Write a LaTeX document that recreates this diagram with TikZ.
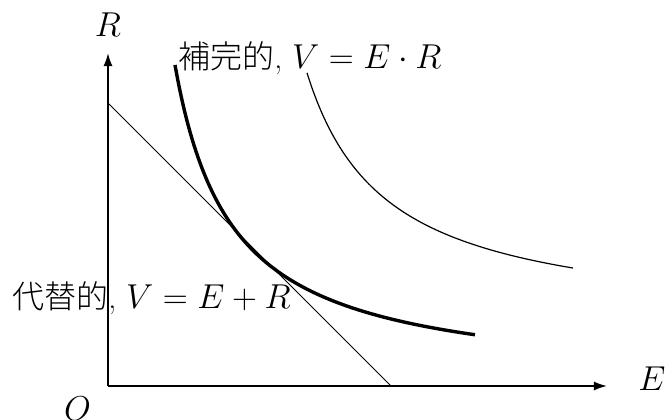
\documentclass[tikz,border=0pt]{standalone}
\usepackage{fontspec}
\newfontfamily\cjk{Noto Sans CJK JP}[UprightFont=* Light]
\usetikzlibrary{arrows.meta}
\begin{document}
\begin{tikzpicture}[x=5pt,y=5pt,
  axis/.style={line width=0.9pt,-{Latex[length=6.5pt,width=4.5pt]}},
  lbl/.style={font=\fontsize{16}{19}\selectfont, inner sep=0pt}]
\useasboundingbox (-10.8,-3.3) rectangle (55.8,38.6);
\coordinate (O) at (0,0);
\coordinate (Ytip) at (0,33.3);
\coordinate (Xtip) at (49.9,0);
\coordinate (Ltop) at (0,28.3);
\coordinate (Lbot) at (28.3,0);
\draw[axis] (O) -- (Ytip);
\draw[axis] (O) -- (Xtip);
\draw[line width=0.5pt] (Ltop) -- (Lbot);
\draw[line width=1.7pt, domain=6.7:36.7, samples=100, smooth] plot (\x,{183/(\x-1)});
\draw[line width=0.6pt, domain=19.9:46.5, samples=100, smooth] plot (\x,{6+200/(\x-12)});
\node[lbl] (Rl) at (0,36.1) {$R$};
\node[lbl] (El) at (54.4,0.7) {$E$};
\node[lbl] (Ol) at (-3.05,-2.3) {$O$};
\node[lbl, anchor=west] (L1) at (7.0,32.8) {{\cjk 補完的}, $V = E\cdot R$};
\node[lbl, anchor=west] (L2) at (-9.6,8.8) {{\cjk 代替的}, $V = E + R$};
\end{tikzpicture}
\end{document}
